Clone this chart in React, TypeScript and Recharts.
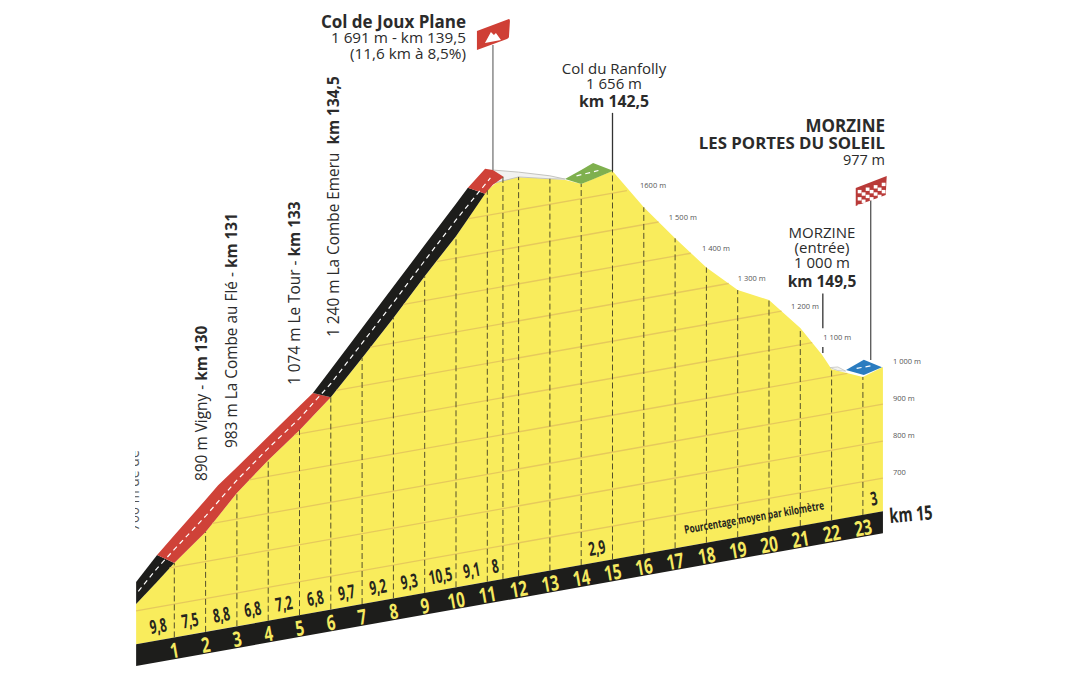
import React from 'react';
import {
  ComposedChart, Area, Line, XAxis, YAxis, ReferenceLine, ReferenceDot, LabelList,
} from 'recharts';

const W = 1068;
const H = 694;
const FONT = '"Open Sans", sans-serif';

// the drawing is skewed: every km lifts the baseline by this many "metres"
const SKEW = 15.05;
const lift = (km: number, m: number) => m + SKEW * km;

const BASE_TOP = 610;
const BASE_BOTTOM = 551;
const KM_START = -0.22;
const KM_END = 23.64;

// profil (km depuis le départ, altitude)
const profileKm = [-0.22, 1, 2, 3, 4, 5, 6, 7, 8, 9, 10, 11, 11.5, 12, 13, 13.5, 14, 15, 16, 17, 18, 19, 20, 21, 21.7, 22, 23, 23.64];
const profileM = [719, 811, 880, 970, 1044, 1110, 1184, 1275, 1368, 1466, 1559, 1668, 1696, 1689, 1669, 1658, 1640, 1660, 1547, 1448, 1354, 1278, 1236, 1145, 1062, 1019, 983, 1000];

// tronçons de route: [km, bord avant, bord arrière]
const roadBlackA = [[-0.22, 719, 778], [0.45, 769, 841], [1, 811, 811]];
const roadRedA = [[0.45, 841, 841], [1, 811, 886], [2, 880, 967], [2.4, 916, 1000], [3, 970, 1040], [4, 1044, 1108], [5, 1110, 1175], [5.43, 1142, 1204], [6, 1184, 1184]];
const roadBlackB = [[5.43, 1204, 1204], [6, 1184, 1259], [7, 1275, 1356], [8, 1368, 1453], [9, 1466, 1550], [10, 1559, 1647], [10.38, 1600, 1684], [10.93, 1660, 1660]];
const roadRedB = [[10.38, 1684, 1684], [10.93, 1660, 1727], [11.18, 1680, 1720], [11.53, 1696, 1696]];
const roadGreen = [[13.48, 1661, 1661], [14, 1640, 1678], [14.38, 1647, 1691], [15.02, 1660, 1660]];
const roadBlue = [[22.46, 1010, 1010], [23.03, 988, 1029], [23.61, 1000, 1000]];
const summitBand = [[11.18, 1684, 1720], [12, 1689, 1702], [13, 1669, 1677], [13.48, 1661, 1661]];
const entryBand = [[21.95, 1024, 1024], [22.2, 1012, 1022], [22.45, 1007, 1007]];

const roadSegments = [
  { rows: roadBlackA, fill: '#1d1d1b' },
  { rows: roadRedA, fill: '#cf4238' },
  { rows: roadBlackB, fill: '#1d1d1b' },
  { rows: roadRedB, fill: '#cf4238' },
  { rows: roadGreen, fill: '#7fb04e' },
  { rows: roadBlue, fill: '#2a7cc0' },
];

const roadCentreKm = [-0.15, 0.45, 1, 2, 3, 4, 5, 6, 7, 8, 9, 10, 11.1];
const roadCentreM = [752, 805, 848, 923, 1005, 1076, 1142, 1221, 1315, 1410, 1508, 1603, 1700];
const greenCentre = [[13.85, 1664], [14.55, 1668]];
const blueCentre = [[22.8, 1009], [23.3, 1009]];

// graduations du kilomètre
const kmTicks = [1, 2, 3, 4, 5, 6, 7, 8, 9, 10, 11, 11.5, 12, 13, 14, 15, 16, 17, 18, 19, 20, 21, 22, 23];
const kmLabels = [1, 2, 3, 4, 5, 6, 7, 8, 9, 10, 11, 12, 13, 14, 15, 16, 17, 18, 19, 20, 21, 22, 23];

// pourcentages
const pctKm = [0.48, 1.5, 2.5, 3.5, 4.5, 5.5, 6.5, 7.5, 8.5, 9.5, 10.5, 11.25, 14.5, 23.35];
const pctLabels = ['9,8', '7,5', '8,8', '6,8', '7,2', '6,8', '9,7', '9,2', '9,3', '10,5', '9,1', '8', '2,9', '3'];

// courbes de niveau: [altitude, km gauche, km droite]
const contours = [
  [1600, 10.41, 15.46], [1500, 9.37, 16.47], [1400, 8.33, 17.5], [1300, 7.27, 18.71], [1200, 6.18, 20.4],
  [1100, 4.85, 21.38], [1000, 3.4, 22.5], [900, 2.22, 23.64], [800, 0.85, 23.64], [700, -0.22, 23.64],
];
const contourLabels: [string, number, number][] = [
  ['1600 m', 15.88, 1609], ['1 500 m', 16.8, 1508], ['1 400 m', 17.86, 1408], ['1 300 m', 19.0, 1310],
  ['1 200 m', 20.7, 1209], ['1 100 m', 21.73, 1110], ['1 000 m', 23.96, 1011], ['900 m', 23.96, 911],
  ['800 m', 23.96, 811], ['700', 23.96, 711],
];

// mâts: [km, bas, haut]
const poles = [
  { km: 11.18, from: 1720, to: 2058, color: '#777' },
  { km: 15, from: 1660, to: 1817, color: '#333' },
  { km: 23.25, from: 1025, to: 1463, color: '#555' },
  { km: 21.72, from: 1134, to: 1228, color: '#333' },
  { km: 21.72, from: 1067, to: 1083, color: '#333' },
];

const rows = (list: number[][]) => list.map(([km, low, high]) => ({ km, band: [lift(km, low), lift(km, high)] }));
const points = (list: number[][]) => list.map(([km, m]) => ({ km, v: lift(km, m) }));

const profileRows = profileKm.map((km, i) => ({ km, band: [lift(km, BASE_TOP), lift(km, profileM[i])] }));
const baseRows = [KM_START, KM_END].map((km) => ({ km, band: [lift(km, BASE_BOTTOM), lift(km, BASE_TOP)] }));
const centreRows = roadCentreKm.map((km, i) => ({ km, v: lift(km, roadCentreM[i]) }));
const pctRows = pctKm.map((km, i) => ({ km, v: lift(km, 650), label: pctLabels[i] }));
const kmRows = kmLabels.map((km) => ({ km, v: lift(km, 578), label: String(km) }));

const profileAt = (km: number) => {
  const i = profileKm.findIndex((k) => k >= km);
  if (profileKm[i] === km) return profileM[i];
  const t = (km - profileKm[i - 1]) / (profileKm[i] - profileKm[i - 1]);
  return profileM[i - 1] + t * (profileM[i] - profileM[i - 1]);
};

// les chiffres de la bande sont étroits et suivent la pente
const SlantLabel = ({ x, y, value, size, color, squeeze }: any) => (
  <text
    transform={`translate(${x} ${y}) rotate(-10) scale(${squeeze} 1)`}
    textAnchor="middle"
    dominantBaseline="central"
    fontFamily={FONT}
    fontWeight={700}
    fontSize={size}
    fill={color}
  >
    {value}
  </text>
);

const TopFlag = ({ cx, cy }: any) => (
  <g transform={`translate(${cx} ${cy})`}>
    <path d="M-16 -14 L16 -26 Q17 -26 17 -24 L16 -8 Q16 -7 14 -6 L-16 5 Z" fill="#cf3f35" />
    <path d="M-8 -2 L-2 -13 L1 -10 L3 -12 L8 -5 Z" fill="#fff" />
  </g>
);

const FinishFlag = ({ cx, cy }: any) => {
  const cells = [];
  for (let c = 0; c < 7; c++) {
    for (let r = 0; r < 5; r++) {
      if ((c + r) % 2 === 0) {
        cells.push(<rect key={`${c}-${r}`} x={-13 + c * 4} y={-8 + r * 3.6 - c * 1.2} width={3.8} height={3.4} fill="#fff" />);
      }
    }
  }
  return (
    <g transform={`translate(${cx} ${cy})`}>
      <path d="M-15 -10 L16 -22 L15 -3 L-15 8 Z" fill="#b93a38" />
      {cells}
    </g>
  );
};

// textes: [texte, x, y, ancre, graisse, taille]
const notes: [string, number, number, string, number, number][] = [
  ['Col de Joux Plane', 466, 28, 'end', 700, 17],
  ['1 691 m - km 139,5', 466, 43, 'end', 400, 15.3],
  ['(11,6 km à 8,5%)', 466, 59, 'end', 400, 15.3],
  ['Col du Ranfolly', 614, 74, 'middle', 400, 15],
  ['1 656 m', 614, 89, 'middle', 400, 15],
  ['km 142,5', 614, 107, 'middle', 700, 15.8],
  ['MORZINE', 885, 132, 'end', 700, 17],
  ['LES PORTES DU SOLEIL', 885, 149, 'end', 700, 16.8],
  ['977 m', 885, 165, 'end', 400, 14.5],
  ['MORZINE', 822, 238, 'middle', 400, 15],
  ['(entrée)', 822, 253, 'middle', 400, 15],
  ['1 000 m', 822, 268, 'middle', 400, 15],
  ['km 149,5', 822, 287, 'middle', 700, 15.5],
];

// textes verticaux: [normal, gras, x, y]
const verticalNotes: [string, string, number, number][] = [
  ['890 m Vigny - ', 'km 130', 207, 481],
  ['983 m La Combe au Flé - ', 'km 131', 237, 448],
  ['1 074 m Le Tour - ', 'km 133', 300, 385],
  ['1 240 m La Combe Emeru  ', 'km 134,5', 339, 337],
];

const Annotations = () => (
  <g>
    <defs>
      <clipPath id="leftCut">
        <rect x={135} y={440} width={20} height={100} />
      </clipPath>
    </defs>
    {notes.map(([t, x, y, anchor, weight, size], i) => (
      <text key={i} x={x} y={y} textAnchor={anchor as any} fontFamily={FONT} fontWeight={weight} fontSize={size} fill="#2b2b2b">
        {t}
      </text>
    ))}
    {verticalNotes.map(([a, b, x, y], i) => (
      <text key={i} x={x} y={y} transform={`rotate(-90 ${x} ${y})`} fontFamily={FONT} fontSize={15.4} fill="#2b2b2b" xmlSpace="preserve">
        {a}
        <tspan fontWeight={700}>{b}</tspan>
      </text>
    ))}
    <g clipPath="url(#leftCut)">
      <text x={139} y={531} transform="rotate(-90 139 531)" fontFamily={FONT} fontSize={14} fill="#555">
        700 m de de
      </text>
    </g>
    <text transform="translate(890 523) rotate(-5) scale(0.72 1)" fontFamily={FONT} fontWeight={700} fontSize={20} fill="#26261e">
      km 15
    </text>
  </g>
);

export default function App() {
  return (
    <div style={{ position: 'absolute', left: 0, top: 0, width: W, height: H, background: '#fff' }}>
      <ComposedChart width={W} height={H} margin={{ top: 0, right: 0, bottom: 0, left: 0 }} data={profileRows}>
        <XAxis dataKey="km" type="number" domain={[-4.569, 29.553]} allowDataOverflow hide />
        <YAxis type="number" domain={[472.16, 2347.84]} allowDataOverflow hide />

        <Area data={profileRows} dataKey="band" type="linear" fill="#f9ec5c" fillOpacity={1} stroke="none" activeDot={false} isAnimationActive={false} />
        <Area data={baseRows} dataKey="band" type="linear" fill="#1d1d1b" fillOpacity={1} stroke="none" activeDot={false} isAnimationActive={false} />

        {contours.map(([m, a, b]) => (
          <ReferenceLine
            key={m}
            segment={[{ x: a, y: lift(a, m) }, { x: b, y: lift(b, m) }]}
            stroke="#e6c95c"
            strokeWidth={1.3}
          />
        ))}

        {kmTicks.map((km) => (
          <ReferenceLine
            key={km}
            segment={[{ x: km, y: lift(km, BASE_TOP) }, { x: km, y: lift(km, profileAt(km)) }]}
            stroke="#55512a"
            strokeWidth={1}
            strokeDasharray="6 3"
          />
        ))}

        <Area data={rows(summitBand)} dataKey="band" type="linear" fill="#f2f2f0" fillOpacity={1} stroke="#c4c4c0" strokeWidth={1} activeDot={false} isAnimationActive={false} />
        <Area data={rows(entryBand)} dataKey="band" type="linear" fill="#f2f2f0" fillOpacity={1} stroke="#c4c4c0" strokeWidth={0.8} activeDot={false} isAnimationActive={false} />
        {roadSegments.map((seg, i) => (
          <Area key={i} data={rows(seg.rows)} dataKey="band" type="linear" fill={seg.fill} fillOpacity={1} stroke="none" activeDot={false} isAnimationActive={false} />
        ))}

        <Line data={centreRows} dataKey="v" type="linear" stroke="#fff" strokeWidth={1.2} strokeDasharray="5 4" dot={false} activeDot={false} isAnimationActive={false} />
        <Line data={points(greenCentre)} dataKey="v" type="linear" stroke="#fff" strokeWidth={1.2} strokeDasharray="5 4" dot={false} activeDot={false} isAnimationActive={false} />
        <Line data={points(blueCentre)} dataKey="v" type="linear" stroke="#fff" strokeWidth={1.2} strokeDasharray="5 4" dot={false} activeDot={false} isAnimationActive={false} />

        {poles.map((p, i) => (
          <ReferenceLine
            key={i}
            segment={[{ x: p.km, y: lift(p.km, p.from) }, { x: p.km, y: lift(p.km, p.to) }]}
            stroke={p.color}
            strokeWidth={1.3}
          />
        ))}
        <ReferenceDot x={11.18} y={lift(11.18, 2058)} shape={<TopFlag />} />
        <ReferenceDot x={23.25} y={lift(23.25, 1463)} shape={<FinishFlag />} />

        <Line
          data={pctRows}
          dataKey="v"
          stroke="none"
          dot={false}
          activeDot={false}
          isAnimationActive={false}
        >
          <LabelList dataKey="label" content={(props: any) => <SlantLabel {...props} size={19} squeeze={0.62} color="#26261e" />} />
        </Line>
        <Line
          data={kmRows}
          dataKey="v"
          stroke="none"
          dot={false}
          activeDot={false}
          isAnimationActive={false}
        >
          <LabelList dataKey="label" content={(props: any) => <SlantLabel {...props} size={21} squeeze={0.72} color="#f5e960" />} />
        </Line>

        {contourLabels.map(([t, km, m]) => (
          <ReferenceDot
            key={t}
            x={km}
            y={lift(km, m)}
            shape={(p: any) => (
              <text x={p.cx} y={p.cy} dominantBaseline="central" fontFamily={FONT} fontSize={7.5} fill="#555">
                {t}
              </text>
            )}
          />
        ))}

        {/* au-dessus du jaune, donc dans un ReferenceDot */}
        <ReferenceDot
          x={19.52}
          y={lift(19.52, 657)}
          shape={(p: any) => (
            <SlantLabel x={p.cx} y={p.cy} value="Pourcentage moyen par kilomètre" size={11.5} squeeze={0.72} color="#26261e" />
          )}
        />

        <Annotations />
      </ComposedChart>
    </div>
  );
}
